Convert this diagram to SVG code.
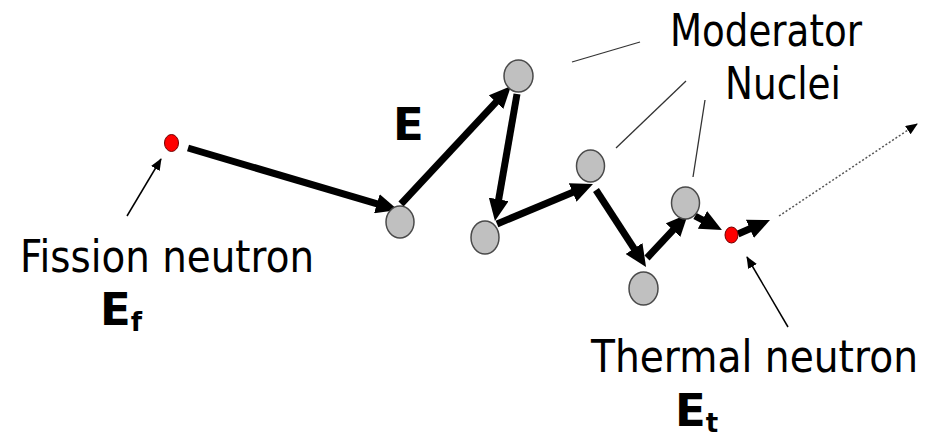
<svg xmlns="http://www.w3.org/2000/svg" width="939" height="437" viewBox="0 0 939 437">
  <style>
    .lbl { font-family: "DejaVu Sans", Verdana, sans-serif; font-size: 45px; fill: #000; }
    .sym { font-family: "DejaVu Sans", Verdana, sans-serif; font-size: 45px; font-weight: bold; fill: #000; }
    .sub { font-size: 26px; }
    .nucleus { fill: #c0c0c0; stroke: #4a4a4a; stroke-width: 1.5; }
    .neutron { fill: #ff0000; stroke: #700000; stroke-width: 1; }
    .path { stroke: #000; stroke-width: 7; fill: none; marker-end: url(#head); }
    .pointer { stroke: #000; stroke-width: 1.5; fill: none; marker-end: url(#thin); }
    .leader { stroke: #333; stroke-width: 1.3; fill: none; }
    .escape { stroke: #555; stroke-width: 1.5; stroke-dasharray: 2 2; fill: none; marker-end: url(#thin); }
  </style>
  <defs>
    <marker id="head" markerUnits="userSpaceOnUse" markerWidth="22" markerHeight="20" refX="10" refY="10" orient="auto">
      <path d="M0,0 L22,10 L0,20 z" fill="#000"/>
    </marker>
    <marker id="thin" markerUnits="userSpaceOnUse" markerWidth="12" markerHeight="10" refX="11" refY="5" orient="auto">
      <path d="M0,0 L12,5 L0,10 z" fill="#000"/>
    </marker>
  </defs>
  <rect width="939" height="437" fill="#fff"/>

  <!-- collision path and pointers -->
  <g id="connectors">
    <line class="path" x1="188" y1="148" x2="386.5" y2="206.6"/>
    <line class="path" x1="401" y1="204" x2="502.8" y2="94.8"/>
    <line class="path" x1="517" y1="94" x2="497" y2="209.2"/>
    <line class="path" x1="497" y1="224" x2="581.9" y2="188.6"/>
    <line class="path" x1="596" y1="190" x2="639.5" y2="256.9"/>
    <line class="path" x1="647" y1="258" x2="679.8" y2="222.8"/>
    <line class="path" x1="695" y1="216" x2="711.3" y2="224.5"/>
    <line class="path" x1="738" y1="234" x2="759" y2="224.8"/>
    <line class="escape" x1="779" y1="216" x2="917" y2="124"/>
    <line class="pointer" x1="127" y1="216" x2="161" y2="159"/>
    <line class="pointer" x1="788" y1="327" x2="747" y2="257"/>
    <line class="leader" x1="572" y1="62" x2="640" y2="42"/>
    <line class="leader" x1="616" y1="148" x2="686" y2="81"/>
    <line class="leader" x1="693" y1="177" x2="705" y2="100"/>
  </g>

  <!-- neutrons -->
  <g id="fission-neutron"><ellipse class="neutron" cx="171.5" cy="143" rx="7" ry="8.5"/></g>
  <g id="thermal-neutron"><ellipse class="neutron" cx="731.5" cy="235" rx="6.5" ry="8"/></g>

  <!-- moderator nuclei -->
  <g id="nucleus-1"><ellipse class="nucleus" cx="400" cy="222" rx="14" ry="16"/></g>
  <g id="nucleus-2"><ellipse class="nucleus" cx="518.5" cy="76" rx="14.5" ry="16"/></g>
  <g id="nucleus-3"><ellipse class="nucleus" cx="485" cy="237.5" rx="14" ry="16.5"/></g>
  <g id="nucleus-4"><ellipse class="nucleus" cx="590.5" cy="166" rx="14" ry="16"/></g>
  <g id="nucleus-5"><ellipse class="nucleus" cx="643.5" cy="288.5" rx="14.5" ry="16.5"/></g>
  <g id="nucleus-6"><ellipse class="nucleus" cx="685.5" cy="203" rx="14" ry="16"/></g>

  <!-- labels -->
  <g id="label-moderator">
    <text class="lbl" x="670" y="46" textLength="192" lengthAdjust="spacingAndGlyphs">Moderator</text>
    <text class="lbl" x="725" y="99" textLength="116" lengthAdjust="spacingAndGlyphs">Nuclei</text>
  </g>
  <g id="label-energy"><text class="sym" x="393" y="140">E</text></g>
  <g id="label-fission">
    <text class="lbl" x="20" y="272" textLength="294" lengthAdjust="spacingAndGlyphs">Fission neutron</text>
    <text class="sym" x="100" y="325">E<tspan class="sub" dy="6">f</tspan></text>
  </g>
  <g id="label-thermal">
    <text class="lbl" x="591" y="372" textLength="327" lengthAdjust="spacingAndGlyphs">Thermal neutron</text>
    <text class="sym" x="675" y="426">E<tspan class="sub" dy="6">t</tspan></text>
  </g>
</svg>
